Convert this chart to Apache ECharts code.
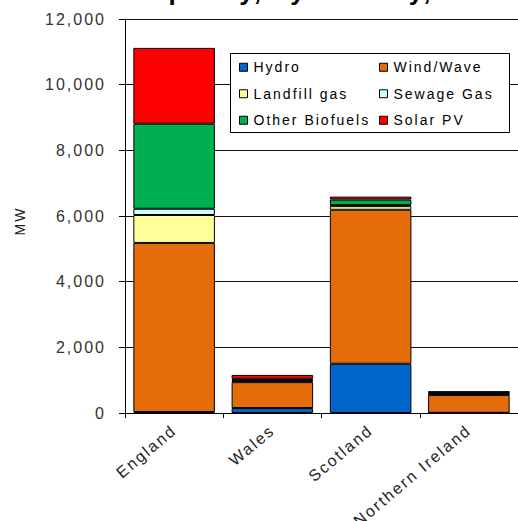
<!DOCTYPE html>
<html>
<head>
<meta charset="utf-8">
<script src="https://cdn.jsdelivr.net/npm/echarts@6/dist/echarts.min.js"></script>
<style>
  html, body { margin: 0; padding: 0; background: #fff; }
  #chart { width: 518px; height: 521px; }
  /* loose tracking for every label drawn in the chart */
  #chart svg text { letter-spacing: 2px; }
</style>
</head>
<body>
<div id="chart"></div>
<script>
// Installed renewable capacity (MW) by country, stacked by technology
const countries = ['England', 'Wales', 'Scotland', 'Northern Ireland'];
const hydro         = [30, 150, 1500, 5];
const windWave      = [5150, 790, 4690, 545];
const landfillGas   = [850, 40, 110, 25];
const sewageGas     = [190, 20, 30, 10];
const otherBiofuels = [2590, 40, 170, 55];
const solarPV       = [2310, 120, 90, 10];
const yTicks = [0, 2000, 4000, 6000, 8000, 10000, 12000];

const seriesDefs = [
  { name: 'Hydro', data: hydro, color: '#0066CC' },
  { name: 'Wind/Wave', data: windWave, color: '#E46C0A' },
  { name: 'Landfill gas', data: landfillGas, color: '#FFFF99' },
  { name: 'Sewage Gas', data: sewageGas, color: '#CCFFFF' },
  { name: 'Other Biofuels', data: otherBiofuels, color: '#00B050' },
  { name: 'Solar PV', data: solarPV, color: '#FF0000' }
];

const font = 'Liberation Sans, Arial, sans-serif';
const chart = echarts.init(document.getElementById('chart'), null, { renderer: 'svg' });

const legendCommon = {
  orient: 'vertical',
  top: 60,
  itemWidth: 8,
  itemHeight: 8,
  itemGap: 12,
  padding: 0,
  z: 6,
  icon: 'rect',
  itemStyle: { borderColor: '#000', borderWidth: 1 },
  textStyle: { fontFamily: font, fontSize: 14, color: '#000', lineHeight: 14.5, padding: [0, 0, 0, 1] },
  selectedMode: false
};

chart.setOption({
  animation: false,
  title: {
    text: 'Installed capacity, by country, 2011',
    left: 3,
    top: -22,
    padding: 0,
    textStyle: { fontFamily: font, fontSize: 26, fontWeight: 'bold', color: '#000' }
  },
  legend: [
    Object.assign({}, legendCommon, { left: 239, data: ['Hydro', 'Landfill gas', 'Other Biofuels'] }),
    Object.assign({}, legendCommon, { left: 379, data: ['Wind/Wave', 'Sewage Gas', 'Solar PV'] })
  ],
  graphic: [{
    type: 'rect',
    z: 5,
    shape: { x: 230.5, y: 53.5, width: 279, height: 79 },
    style: { fill: '#fff', stroke: '#000', lineWidth: 1 }
  }],
  grid: { left: 125, top: 19, right: -2, bottom: 108, containLabel: false },
  xAxis: {
    type: 'category',
    data: countries,
    axisLine: { lineStyle: { color: '#000', width: 1 } },
    axisTick: { show: true, length: 5, alignWithLabel: false, lineStyle: { color: '#000' } },
    axisLabel: {
      interval: 0,
      rotate: 40,
      margin: 15,
      fontFamily: font,
      fontSize: 16,
      color: '#222'
    }
  },
  yAxis: {
    type: 'value',
    min: 0,
    max: 12000,
    interval: 2000,
    name: 'MW',
    nameLocation: 'middle',
    nameGap: 98,
    nameRotate: 90,
    nameTextStyle: { fontFamily: font, fontSize: 14, color: '#222', padding: [0, 10, 0, 0] },
    axisLine: { show: true, lineStyle: { color: '#000', width: 1 } },
    axisTick: { show: true, length: 6, lineStyle: { color: '#000' } },
    axisLabel: {
      margin: 19,
      fontFamily: font,
      fontSize: 16,
      color: '#333',
      formatter: v => yTicks.includes(v) ? v.toLocaleString('en-US') : ''
    },
    splitLine: { show: true, lineStyle: { color: '#111', width: 1 } }
  },
  series: seriesDefs.map(s => ({
    name: s.name,
    type: 'bar',
    stack: 'total',
    data: s.data,
    barWidth: '83%',
    itemStyle: { color: s.color, borderColor: '#000', borderWidth: 1 },
    emphasis: { disabled: true }
  }))
});
</script>
</body>
</html>
